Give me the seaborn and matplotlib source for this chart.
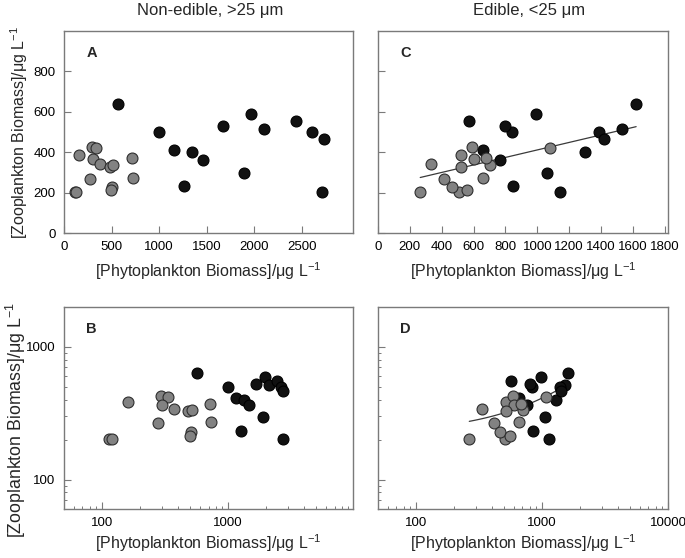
import numpy as np
import pandas as pd
import matplotlib
matplotlib.use("Agg")
import matplotlib.pyplot as plt
from matplotlib.ticker import NullFormatter, LogLocator
import seaborn as sns

# zooplankton biomass (shared by both columns)
zoo_black = [640, 502, 412, 399, 362, 231, 530, 296, 590, 517, 552, 502, 464, 202]
zoo_gray = [201, 204, 386, 428, 420, 365, 343, 268, 326, 336, 227, 214, 370, 272]

# phytoplankton biomass, non-edible (>25 um) and edible (<25 um)
nonedible_black = [565, 1000, 1160, 1345, 1465, 1265, 1675, 1895, 1965, 2105, 2445, 2610, 2740, 2715]
edible_black = [1620, 839, 657, 1298, 766, 848, 800, 1063, 990, 1533, 573, 1389, 1418, 1145]
nonedible_gray = [113, 121, 160, 296, 332, 300, 376, 276, 481, 515, 506, 497, 713, 727]
edible_gray = [265, 508, 523, 592, 1078, 602, 332, 416, 523, 705, 464, 560, 680, 661]

col_titles = ["Non-edible, >25 \u03bcm", "Edible, <25 \u03bcm"]

df = pd.concat([
    pd.DataFrame({"zoo": zoo_black, "nonedible": nonedible_black,
                  "edible": edible_black, "group": "black"}),
    pd.DataFrame({"zoo": zoo_gray, "nonedible": nonedible_gray,
                  "edible": edible_gray, "group": "gray"}),
], ignore_index=True)

sns.set_style("ticks")
plt.rcParams["font.family"] = ["Liberation Sans", "DejaVu Sans"]
plt.rcParams["mathtext.default"] = "regular"

xlab = "[Phytoplankton Biomass]/\u03bcg L$^{-1}$"
ylab = "[Zooplankton Biomass]/\u03bcg L$^{-1}$"
frame = "#7a7a7a"

fig = plt.figure(figsize=(6.85, 5.58), dpi=100)
W, H = 685, 558


def add_ax(left, right, top, bottom):
    return fig.add_axes([left / W, 1 - bottom / H, (right - left) / W, (bottom - top) / H])


axA = add_ax(64, 353, 31, 233)
axC = add_ax(378, 668, 31, 233)
axB = add_ax(64, 353, 307, 509)
axD = add_ax(378, 668, 307, 509)

styles = {
    "black": dict(color="#111111", edgecolor="#000000"),
    "gray": dict(color="#828282", edgecolor="#2e2e2e"),
}

for ax, xcol, letter, log in [(axA, "nonedible", "A", False), (axC, "edible", "C", False),
                              (axB, "nonedible", "B", True), (axD, "edible", "D", True)]:
    if log:
        ax.set_xscale("log")
        ax.set_yscale("log")
    if xcol == "edible":
        sns.regplot(data=df, x=xcol, y="zoo", ax=ax, scatter=False, ci=None, truncate=True,
                    line_kws=dict(color="#3a3a3a", lw=0.9, zorder=1.5))
    for grp in ["black", "gray"]:
        sub = df[df["group"] == grp]
        sns.scatterplot(data=sub, x=xcol, y="zoo", ax=ax, s=62, linewidth=0.8,
                        zorder=3, legend=False, **styles[grp])
    for sp in ax.spines.values():
        sp.set_color(frame)
        sp.set_linewidth(1.0)
    ax.tick_params(which="major", direction="in", length=5, width=0.8, color=frame,
                   labelsize=9.5, labelcolor="black", pad=6)
    ax.tick_params(which="minor", direction="in", length=2.5, width=0.7, color=frame)
    ax.text(0.095, 0.89, letter, transform=ax.transAxes, fontsize=10.5,
            fontweight="bold", ha="center", va="center")
    ax.set_xlabel(xlab, fontsize=11.5, labelpad=5 if not log else 2)
    ax.set_ylabel("")

# linear panels
axA.set_xlim(0, 3040)
axA.set_xticks([0, 500, 1000, 1500, 2000, 2500])
axC.set_xlim(0, 1820)
axC.set_xticks(np.arange(0, 1801, 200))
for ax in [axA, axC]:
    ax.set_ylim(0, 1000)
    ax.set_yticks([0, 200, 400, 600, 800])
axC.set_yticklabels([])

# log panels
axB.set_xlim(50, 9800)
axD.set_xlim(50, 10000)
axB.set_xticks([100, 1000])
axB.set_xticklabels(["100", "1000"])
axD.set_xticks([100, 1000, 10000])
axD.set_xticklabels(["100", "1000", "10000"])
for ax in [axB, axD]:
    ax.set_ylim(60, 2000)
    ax.set_yticks([100, 1000])
    ax.set_yticklabels(["100", "1000"])
    ax.xaxis.set_minor_locator(LogLocator(base=10, subs=np.arange(2, 10)))
    ax.yaxis.set_minor_locator(LogLocator(base=10, subs=np.arange(2, 10)))
    ax.xaxis.set_minor_formatter(NullFormatter())
    ax.yaxis.set_minor_formatter(NullFormatter())
axD.set_yticklabels([])

fig.text(19 / W, 1 - 132 / H, ylab, rotation=90, fontsize=11.5, ha="center", va="center")
fig.text(16 / W, 1 - 420 / H, ylab, rotation=90, fontsize=12.8, ha="center", va="center")

fig.text(210 / W, 1 - 11 / H, col_titles[0], fontsize=12, ha="center", va="center")
fig.text(529 / W, 1 - 11 / H, col_titles[1], fontsize=12, ha="center", va="center")

fig.savefig("out.png", dpi=100)
